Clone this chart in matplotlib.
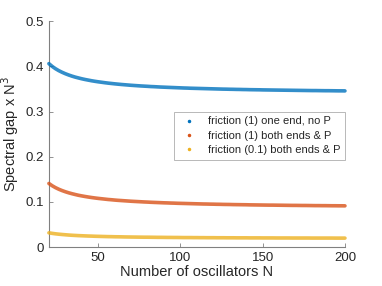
import matplotlib
matplotlib.use('Agg')
import matplotlib.pyplot as plt
import numpy as np

plt.rcParams['font.family'] = ['Liberation Sans', 'DejaVu Sans']

# number of oscillators (every second N)
N = np.arange(20, 201, 2)

# values
one_end = [0.4060, 0.3999, 0.3948, 0.3905, 0.3869, 0.3837, 0.3809, 0.3784, 0.3762, 0.3743,
           0.3725, 0.3709, 0.3695, 0.3681, 0.3669, 0.3658, 0.3648, 0.3638, 0.3629, 0.3621,
           0.3613, 0.3606, 0.3599, 0.3593, 0.3587, 0.3581, 0.3576, 0.3571, 0.3566, 0.3562,
           0.3558, 0.3553, 0.3550, 0.3546, 0.3542, 0.3539, 0.3536, 0.3533, 0.3530, 0.3527,
           0.3524, 0.3521, 0.3519, 0.3516, 0.3514, 0.3512, 0.3510, 0.3508, 0.3506, 0.3504,
           0.3502, 0.3500, 0.3498, 0.3496, 0.3495, 0.3493, 0.3492, 0.3490, 0.3489, 0.3487,
           0.3486, 0.3484, 0.3483, 0.3482, 0.3481, 0.3479, 0.3478, 0.3477, 0.3476, 0.3475,
           0.3474, 0.3473, 0.3472, 0.3471, 0.3470, 0.3469, 0.3468, 0.3467, 0.3466, 0.3465,
           0.3464, 0.3464, 0.3463, 0.3462, 0.3461, 0.3461, 0.3460, 0.3459, 0.3458, 0.3458,
           0.3457]
both_ends = [0.1408, 0.1358, 0.1316, 0.1281, 0.1251, 0.1225, 0.1202, 0.1182, 0.1164, 0.1147,
             0.1133, 0.1120, 0.1108, 0.1097, 0.1087, 0.1078, 0.1070, 0.1062, 0.1054, 0.1048,
             0.1041, 0.1035, 0.1030, 0.1025, 0.1020, 0.1015, 0.1011, 0.1007, 0.1003, 0.0999,
             0.0996, 0.0992, 0.0989, 0.0986, 0.0983, 0.0980, 0.0978, 0.0975, 0.0973, 0.0970,
             0.0968, 0.0966, 0.0964, 0.0962, 0.0960, 0.0958, 0.0956, 0.0954, 0.0953, 0.0951,
             0.0950, 0.0948, 0.0947, 0.0945, 0.0944, 0.0943, 0.0941, 0.0940, 0.0939, 0.0938,
             0.0937, 0.0935, 0.0934, 0.0933, 0.0932, 0.0931, 0.0930, 0.0929, 0.0929, 0.0928,
             0.0927, 0.0926, 0.0925, 0.0924, 0.0923, 0.0923, 0.0922, 0.0921, 0.0921, 0.0920,
             0.0919, 0.0918, 0.0918, 0.0917, 0.0917, 0.0916, 0.0915, 0.0915, 0.0914, 0.0914,
             0.0913]
both_ends_01 = [0.0316, 0.0304, 0.0294, 0.0286, 0.0279, 0.0273, 0.0267, 0.0262, 0.0258, 0.0254,
                0.0251, 0.0248, 0.0245, 0.0243, 0.0240, 0.0238, 0.0236, 0.0234, 0.0232, 0.0231,
                0.0229, 0.0228, 0.0227, 0.0225, 0.0224, 0.0223, 0.0222, 0.0221, 0.0220, 0.0219,
                0.0219, 0.0218, 0.0217, 0.0216, 0.0216, 0.0215, 0.0214, 0.0214, 0.0213, 0.0213,
                0.0212, 0.0211, 0.0211, 0.0211, 0.0210, 0.0210, 0.0209, 0.0209, 0.0208, 0.0208,
                0.0208, 0.0207, 0.0207, 0.0207, 0.0206, 0.0206, 0.0206, 0.0205, 0.0205, 0.0205,
                0.0205, 0.0204, 0.0204, 0.0204, 0.0204, 0.0203, 0.0203, 0.0203, 0.0203, 0.0202,
                0.0202, 0.0202, 0.0202, 0.0202, 0.0201, 0.0201, 0.0201, 0.0201, 0.0201, 0.0201,
                0.0200, 0.0200, 0.0200, 0.0200, 0.0200, 0.0200, 0.0200, 0.0199, 0.0199, 0.0199,
                0.0199]

labels = ['friction (1) one end, no P', 'friction (1) both ends & P', 'friction (0.1) both ends & P']
colors = ['#0072BD', '#D95319', '#EDB120']

fig = plt.figure(figsize=(3.82, 2.86), dpi=100)
ax = fig.add_axes([0.128, 0.136, 0.775, 0.790])

# dense markers in the original merge into a band, so draw them as a thick line
for y, c in zip([one_end, both_ends, both_ends_01], colors):
	ax.plot(N, y, linewidth=2.6, color=c, alpha=0.8, solid_capstyle='round',
	        clip_on=False, zorder=3)

ax.set_xlim(20, 200)
ax.set_ylim(0, 0.5)
ax.set_xticks([50, 100, 150, 200])
ax.set_yticks([0, 0.1, 0.2, 0.3, 0.4, 0.5])
ax.set_yticklabels(['0', '0.1', '0.2', '0.3', '0.4', '0.5'])

grey = '#262626'
for s in ['top', 'right']:
	ax.spines[s].set_visible(False)
for s in ['left', 'bottom']:
	ax.spines[s].set_color('#808080')
	ax.spines[s].set_linewidth(0.8)
ax.tick_params(direction='in', length=3, width=0.6, colors='#808080', labelcolor=grey, labelsize=9.5)

ax.set_xlabel('Number of oscillators N', fontsize=10.5, color=grey, labelpad=1)
ax.set_ylabel('Spectral gap x N$^3$', fontsize=10.5, color=grey, labelpad=3)

# legend uses a plain dot like the reference
handles = [plt.Line2D([], [], linestyle='none', marker='.', markersize=3, color=c) for c in colors]
leg = ax.legend(handles, labels, loc='upper right', bbox_to_anchor=(345 / 382, 1 - 112 / 286),
                bbox_transform=fig.transFigure, fontsize=8, frameon=True, fancybox=False,
                borderpad=0.4, handletextpad=0.7, labelspacing=0.4, handlelength=2.0,
                borderaxespad=0)
leg.get_frame().set_edgecolor('#999999')
leg.get_frame().set_linewidth(0.6)
for t in leg.get_texts():
	t.set_color(grey)

fig.savefig('out.png', dpi=100)
